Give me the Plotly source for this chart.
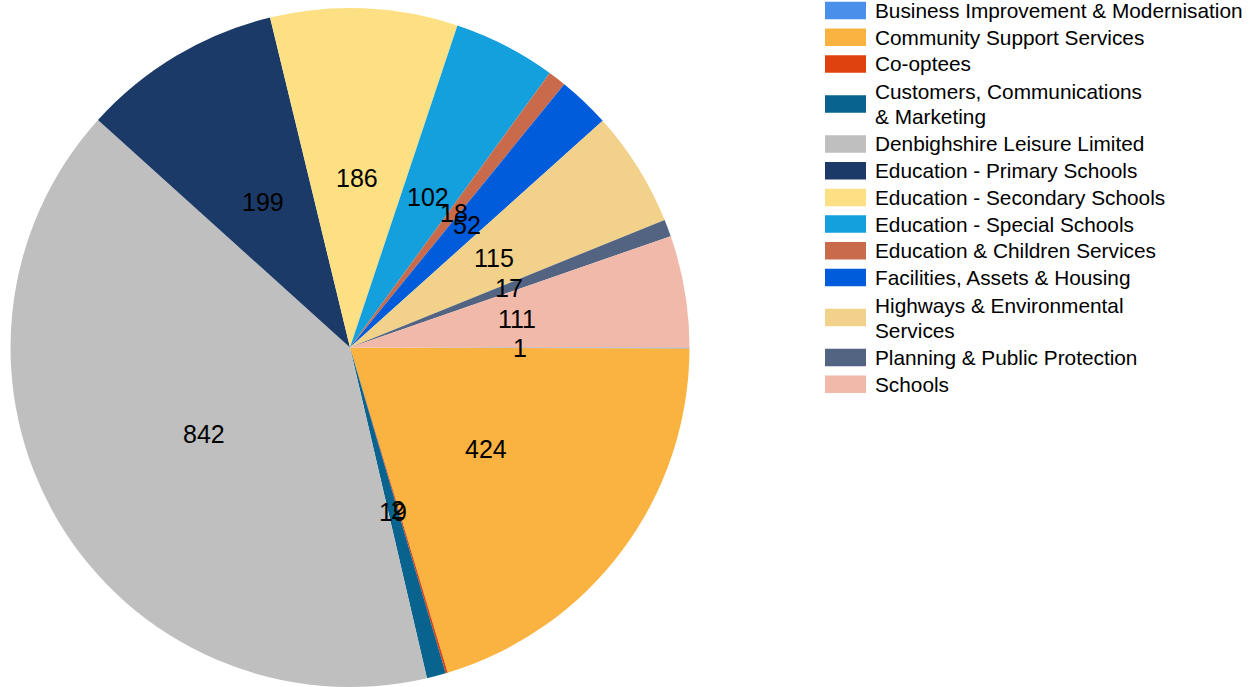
import math
import plotly.graph_objects as go

# Headcount by service area
categories = [
    "Business Improvement & Modernisation",
    "Community Support Services",
    "Co-optees",
    "Customers, Communications & Marketing",
    "Denbighshire Leisure Limited",
    "Education - Primary Schools",
    "Education - Secondary Schools",
    "Education - Special Schools",
    "Education & Children Services",
    "Facilities, Assets & Housing",
    "Highways & Environmental Services",
    "Planning & Public Protection",
    "Schools",
]
values = [1, 424, 2, 19, 842, 199, 186, 102, 18, 52, 115, 17, 111]
legend_lines = [
    ["Business Improvement & Modernisation"],
    ["Community Support Services"],
    ["Co-optees"],
    ["Customers, Communications", "& Marketing"],
    ["Denbighshire Leisure Limited"],
    ["Education - Primary Schools"],
    ["Education - Secondary Schools"],
    ["Education - Special Schools"],
    ["Education & Children Services"],
    ["Facilities, Assets & Housing"],
    ["Highways & Environmental", "Services"],
    ["Planning & Public Protection"],
    ["Schools"],
]
colors = [
    "#4a8fe9", "#fab340", "#e0420f", "#08648f", "#bfbfbf", "#1c3a67",
    "#fde084", "#149fdd", "#c96b4a", "#015cdc", "#f2d28b", "#526482",
    "#f1b9aa",
]

W, H = 1256, 687
TOP = 8
FONT = "Liberation Sans, Arial, sans-serif"

# Pie geometry in pixels (radius is set by plot height)
R = (H - TOP) / 2
CX, CY = 350, TOP + R

# Pixel -> paper coordinates (paper spans the area inside the margins)
def px_x(x):
    return x / W

def px_y(y):
    return 1 - (y - TOP) / (H - TOP)

fig = go.Figure(
    go.Pie(
        labels=categories,
        values=values,
        sort=False,
        direction="clockwise",
        rotation=90,
        marker=dict(colors=colors, line=dict(width=0)),
        textinfo="none",
        hoverinfo="label+value",
        showlegend=False,
        domain=dict(x=[px_x(CX - R), px_x(CX + R)], y=[0, 1]),
    )
)

# Value labels at half radius, on each slice's mid-angle
total = sum(values)
annotations = []
cum = 0.0
for v in values:
    theta = -2 * math.pi * (cum + v / 2) / total
    cum += v
    lx = CX + 0.5 * R * math.cos(theta)
    ly = CY - 0.5 * R * math.sin(theta)
    annotations.append(dict(
        x=px_x(lx), y=px_y(ly), xref="paper", yref="paper",
        text=str(v), showarrow=False, xanchor="center", yanchor="middle",
        font=dict(family=FONT, size=25, color="#000000"),
    ))

# Legend drawn as swatches with text beside them
shapes = []
ROW = 26.7          # height of a one-line legend row
LINE_GAP = 25       # spacing between wrapped lines
y_top = 10.5 - ROW / 2
SW_X0, SW_X1, SW_H = 825, 866, 17.5
TEXT_X = 874
for lines, col in zip(legend_lines, colors):
    h = ROW * len(lines)
    yc = y_top + h / 2
    y_top += h
    shapes.append(dict(
        type="rect", xref="paper", yref="paper",
        x0=px_x(SW_X0), x1=px_x(SW_X1),
        y0=px_y(yc - SW_H / 2), y1=px_y(yc + SW_H / 2),
        fillcolor=col, line=dict(width=0),
    ))
    first = yc - LINE_GAP * (len(lines) - 1) / 2
    for k, line in enumerate(lines):
        annotations.append(dict(
            x=px_x(TEXT_X), y=px_y(first + k * LINE_GAP),
            xref="paper", yref="paper",
            text=line, showarrow=False, align="left",
            xanchor="left", yanchor="middle", borderpad=0,
            font=dict(family=FONT, size=20.8, color="#000000"),
        ))

fig.update_layout(
    width=W, height=H,
    margin=dict(l=0, r=0, t=TOP, b=0),
    paper_bgcolor="#ffffff",
    plot_bgcolor="#ffffff",
    annotations=annotations,
    shapes=shapes,
)

fig.write_html("out.html")
